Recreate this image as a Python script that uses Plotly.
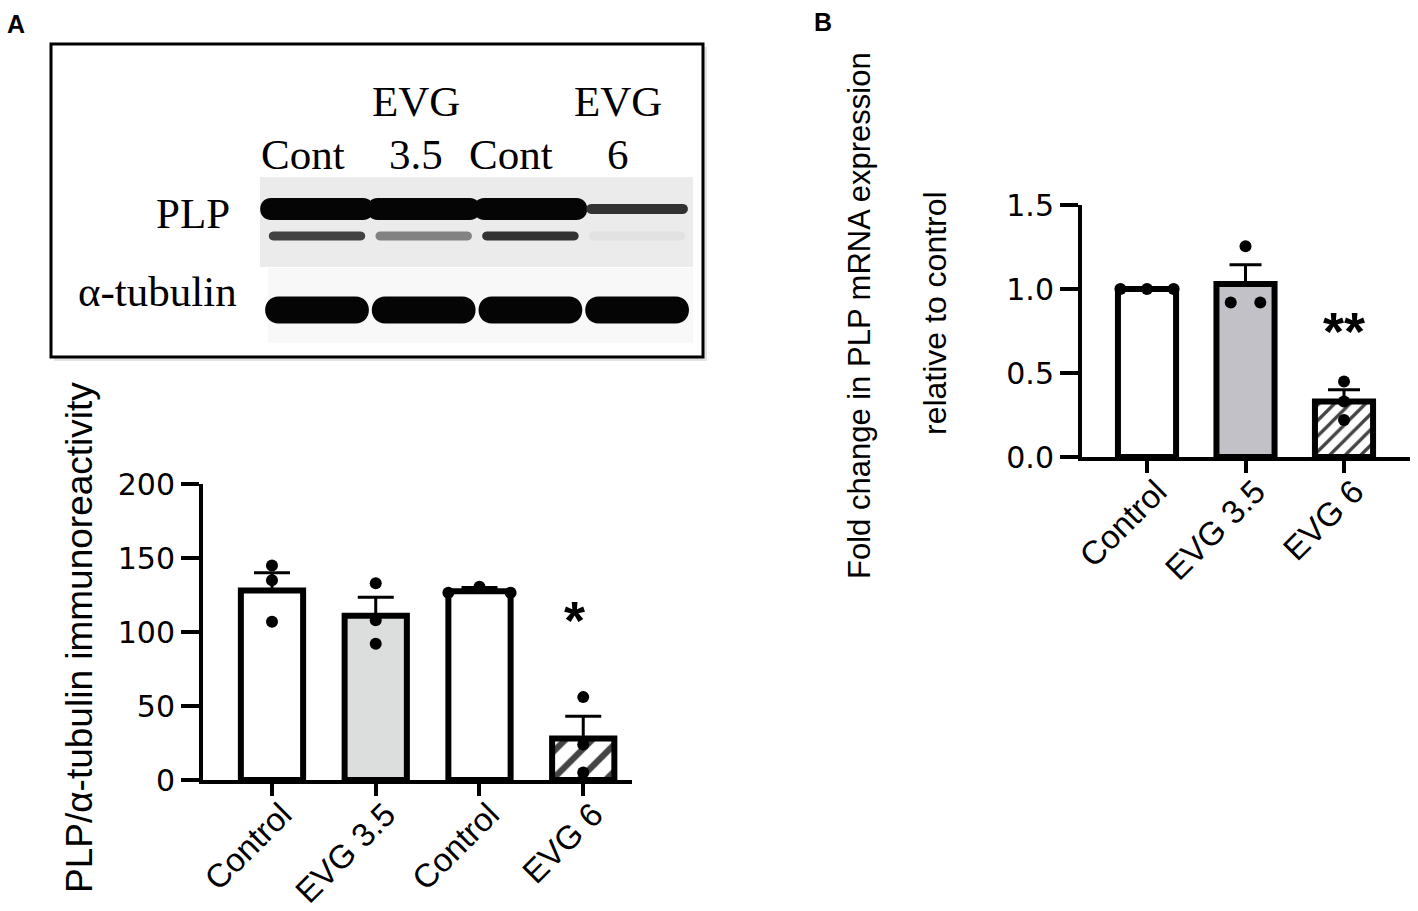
#Western blot + PLP bar charts (panels A and B)
import plotly.graph_objects as go

W, H = 1418, 911

# ---- panel A data (PLP / alpha-tubulin immunoreactivity) ----
a_groups = ["Control", "EVG 3.5", "Control", "EVG 6"]
a_means = [128, 111, 127.5, 28]
a_sem = [12, 12.5, 2.5, 15]
a_points = [[145, 135, 107], [133, 108, 92], [126.5, 130.5, 126.5], [56, 24, 5]]

# ---- panel B data (fold change PLP mRNA) ----
b_groups = ["Control", "EVG 3.5", "EVG 6"]
b_means = [1.0, 1.03, 0.33]
b_sem = [0.0, 0.115, 0.07]
b_points = [[1.0, 1.0, 1.0], [1.255, 0.92, 0.92], [0.45, 0.33, 0.22]]

# ---- blot lanes and band strengths ----
lane_top = ["", "EVG", "", "EVG"]
lane_bottom = ["Cont", "3.5", "Cont", "6"]
plp_main = [1.0, 1.0, 1.0, 0.45]
plp_lower = [0.55, 0.35, 0.6, 0.05]
tubulin = [1.0, 1.0, 1.0, 1.0]

# styles / positions (not data)
a_fill = ["white", "#dcdedd", "white", "white"]
a_hatch = ["", "", "", "/"]
b_fill = ["white", "#c1c1c7", "white"]
b_hatch = ["", "", "/"]
a_jitter = [[0, 0, 0], [0, 0, 0], [-0.3, 0, 0.3], [0, 0, 0]]
b_jitter = [[-0.27, 0, 0.27], [0, -0.15, 0.15], [0, 0, 0]]
label_shift = [-0.13, -0.07, -0.18, -0.18]

SANS = "Liberation Sans, Arial, sans-serif"
WIDE = "DejaVu Sans, sans-serif"
SERIF = "Liberation Serif, Times New Roman, serif"


def px(x):
    return x / W


def py(y):
    return 1 - y / H


fig = go.Figure()

# panel A bars
fig.add_trace(go.Bar(
    x=list(range(len(a_groups))), y=a_means, width=0.6,
    marker=dict(color=a_fill, line=dict(color="black", width=6),
                pattern=dict(shape=a_hatch, fgcolor="black", size=19,
                             solidity=0.33, fgopacity=1, fillmode="overlay")),
    error_y=dict(type="data", array=a_sem, arrayminus=[0] * 4, symmetric=False,
                 thickness=3, width=18, color="black"),
    xaxis="x", yaxis="y", showlegend=False))
ax, ay = [], []
for i, pts in enumerate(a_points):
    for j, v in enumerate(pts):
        ax.append(i + a_jitter[i][j])
        ay.append(v)
fig.add_trace(go.Scatter(x=ax, y=ay, mode="markers", marker=dict(color="black", size=12),
                         xaxis="x", yaxis="y", showlegend=False, cliponaxis=False))

# panel B bars
fig.add_trace(go.Bar(
    x=list(range(len(b_groups))), y=b_means, width=0.59,
    marker=dict(color=b_fill, line=dict(color="black", width=6),
                pattern=dict(shape=b_hatch, fgcolor="#8a8a8a", size=11,
                             solidity=0.3, fgopacity=1, fillmode="overlay")),
    error_y=dict(type="data", array=b_sem, arrayminus=[0] * 3, symmetric=False,
                 thickness=3, width=16, color="black"),
    xaxis="x2", yaxis="y2", showlegend=False))
bx, by = [], []
for i, pts in enumerate(b_points):
    for j, v in enumerate(pts):
        bx.append(i + b_jitter[i][j])
        by.append(v)
fig.add_trace(go.Scatter(x=bx, y=by, mode="markers", marker=dict(color="black", size=12),
                         xaxis="x2", yaxis="y2", showlegend=False, cliponaxis=False))

axis_common = dict(showline=True, linecolor="black", linewidth=4, ticks="outside", automargin=False,
                   tickcolor="black", tickwidth=4, showgrid=False, zeroline=False, fixedrange=True)

fig.update_layout(
    width=W, height=H, autosize=False,
    margin=dict(l=0, r=0, t=0, b=0, pad=0),
    paper_bgcolor="white", plot_bgcolor="rgba(0,0,0,0)",
    xaxis=dict(domain=[px(203), px(632)], range=[-0.665, 3.47], anchor="y",
               tickvals=list(range(4)), ticktext=a_groups, tickangle=-45, ticklen=12,
               ticklabelstandoff=-14, ticklabelshift=10,
               tickfont=dict(family=SANS, size=33, color="black"), **axis_common),
    yaxis=dict(domain=[py(780), py(484)], range=[0, 200], anchor="x",
               tickvals=[0, 50, 100, 150, 200], ticklen=18,
               tickfont=dict(family=WIDE, size=30, color="black"), **axis_common),
    xaxis2=dict(domain=[px(1082), px(1410)], range=[-0.66, 2.67], anchor="y2",
                tickvals=list(range(3)), ticktext=b_groups, tickangle=-45, ticklen=12,
                ticklabelstandoff=-14, ticklabelshift=10,
                tickfont=dict(family=SANS, size=33, color="black"), **axis_common),
    yaxis2=dict(domain=[py(457), py(205)], range=[0, 1.5], anchor="x2",
                tickvals=[0, 0.5, 1.0, 1.5], tickformat=".1f", ticklen=18,
                tickfont=dict(family=WIDE, size=30, color="black"), **axis_common),
    # blot coordinate frame: lanes in x, pixel rows in y
    xaxis3=dict(domain=[px(51), px(703)], range=[(51 - 317) / 106.7, (703 - 317) / 106.7],
                anchor="y3", visible=False, fixedrange=True, automargin=False),
    yaxis3=dict(domain=[py(357), py(44)], range=[357, 44], anchor="x3",
                visible=False, fixedrange=True, automargin=False),
)

shapes = []
# blot frame with soft shadow
shapes.append(dict(type="rect", xref="paper", yref="paper", x0=px(54), x1=px(707), y0=py(361), y1=py(47),
                   line=dict(width=0), fillcolor="#e4e4e4", layer="below"))
shapes.append(dict(type="rect", xref="paper", yref="paper", x0=px(51), x1=px(703), y0=py(357), y1=py(44),
                   line=dict(color="black", width=3), fillcolor="white", layer="below"))
# membrane backgrounds
shapes.append(dict(type="rect", xref="x3", yref="y3", x0=(260 - 317) / 106.7, x1=(693 - 317) / 106.7,
                   y0=177, y1=267, line=dict(width=0), fillcolor="#ebebeb", layer="below"))
shapes.append(dict(type="rect", xref="x3", yref="y3", x0=(268 - 317) / 106.7, x1=(693 - 317) / 106.7,
                   y0=268, y1=343, line=dict(width=0), fillcolor="#f8f8f8", layer="below"))


def band(i, half, yc, h, level, gain):
    d = max(0.0, min(1.0, level * gain))
    g = int(round(242 - 237 * d))
    x0, x1 = i - half, i + half
    r = h * 0.5 * 1.33 / 106.7
    t, b = yc - h / 2, yc + h / 2
    path = (f"M {x0},{t} L {x1},{t} C {x1 + r},{t} {x1 + r},{b} {x1},{b} "
            f"L {x0},{b} C {x0 - r},{b} {x0 - r},{t} {x0},{t} Z")
    return dict(type="path", xref="x3", yref="y3", path=path, line=dict(width=0),
                fillcolor=f"rgb({g},{g},{g})", layer="above")


for i in range(4):
    shapes.append(band(i, 0.43, 209, 22 * max(plp_main[i], 0.4), plp_main[i], 1.8))
    shapes.append(band(i, 0.41, 236, 9, plp_lower[i], 1.35))
    shapes.append(band(i, 0.36, 310, 27, tubulin[i], 1.0))
fig.update_layout(shapes=shapes)

ann = []
for i in range(4):
    if lane_top[i]:
        ann.append(dict(x=i + label_shift[i], y=101, xref="x3", yref="y3", text=lane_top[i],
                        font=dict(family=SERIF, size=43, color="black")))
    ann.append(dict(x=i + label_shift[i], y=154, xref="x3", yref="y3", text=lane_bottom[i],
                    font=dict(family=SERIF, size=43, color="black")))
ann.append(dict(x=(193 - 317) / 106.7, y=213, xref="x3", yref="y3", text="PLP",
                font=dict(family=SERIF, size=43, color="black")))
ann.append(dict(x=(157 - 317) / 106.7, y=291, xref="x3", yref="y3", text="α-tubulin",
                font=dict(family=SERIF, size=43, color="black")))

# significance marks
ann.append(dict(x=2.92, y=108, xref="x", yref="y", text="<b>*</b>",
                font=dict(family=SANS, size=54, color="black")))
ann.append(dict(x=2, y=0.75, xref="x2", yref="y2", text="<b>**</b>",
                font=dict(family=SANS, size=54, color="black")))

# axis titles
ann.append(dict(x=px(79), y=py(638), xref="paper", yref="paper", text="PLP/α-tubulin immunoreactivity",
                textangle=-90, font=dict(family=SANS, size=37, color="black")))
ann.append(dict(x=px(860), y=py(315), xref="paper", yref="paper", text="Fold change in PLP mRNA expression",
                textangle=-90, font=dict(family=SANS, size=31, color="black")))
ann.append(dict(x=px(935), y=py(313), xref="paper", yref="paper", text="relative to control",
                textangle=-90, font=dict(family=SANS, size=32, color="black")))

# panel letters
ann.append(dict(x=px(16), y=py(24), xref="paper", yref="paper", text="<b>A</b>",
                font=dict(family=SANS, size=25, color="black")))
ann.append(dict(x=px(823), y=py(22), xref="paper", yref="paper", text="<b>B</b>",
                font=dict(family=SANS, size=25, color="black")))
for a in ann:
    a.update(showarrow=False, xanchor="center", yanchor="middle")
fig.update_layout(annotations=ann)

fig.write_html("out.html", config={"displayModeBar": False},
               post_script="document.body.style.margin='0';")
